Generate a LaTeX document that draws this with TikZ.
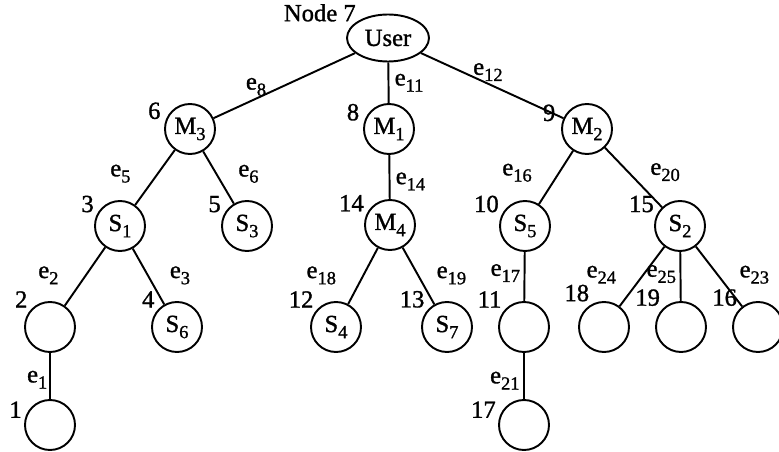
\documentclass[tikz,border=0pt]{standalone}
\usepackage{fontspec}
\setmainfont{Liberation Serif}[FakeBold=1.2]
\usetikzlibrary{shapes.geometric}
\def\sub#1{\raisebox{-0.55ex}{\fontsize{10.5}{10.5}\selectfont #1}}

\begin{document}
\begin{tikzpicture}[
		font=\fontsize{14}{16}\selectfont,
		line width=1.1pt,
		vertex/.style={draw, circle, minimum size=1cm, inner sep=0pt},
		num/.style={inner sep=1pt, label distance=0pt},
		elab/.style={inner sep=1pt}
	]
				\useasboundingbox (0,0) rectangle (15.58,-9.04);
				
				\node[draw, ellipse, minimum width=1.64cm, minimum height=0.94cm, inner sep=0pt,
					label={[num, label distance=-2pt]155:Node 7}] (user) at (7.76,-0.76) {User};
				
				\node[vertex, label={[num, label distance=1pt]165:6}] (m3) at (3.80,-2.58) {M\sub{3}};
				\node[vertex, label={[num, label distance=1pt]168:8}] (m1) at (7.78,-2.58) {M\sub{1}};
				\node[vertex, label={[num, label distance=2pt]170:9}] (m2) at (11.74,-2.58) {M\sub{2}};
				
				\node[vertex, label={[num]155:3}] (s1) at (2.40,-4.52) {S\sub{1}};
				\node[vertex, label={[num]155:5}] (s3) at (4.94,-4.52) {S\sub{3}};
				\node[vertex, label={[num]155:14}] (m4) at (7.80,-4.50) {M\sub{4}};
				\node[vertex, label={[num]155:10}] (s5) at (10.50,-4.52) {S\sub{5}};
				\node[vertex, label={[num]155:15}] (s2) at (13.60,-4.52) {S\sub{2}};
				
				\node[vertex, label={[num]140:2}] (n2) at (1.00,-6.54) {};
				\node[vertex, label={[num]140:4}] (s6) at (3.54,-6.54) {S\sub{6}};
				\node[vertex, label={[num]140:12}] (s4) at (6.72,-6.54) {S\sub{4}};
				\node[vertex, label={[num]140:13}] (s7) at (8.94,-6.54) {S\sub{7}};
				\node[vertex, label={[num]140:11}] (n11) at (10.48,-6.54) {};
				\node[vertex, label={[num]118:18}] (n18) at (12.08,-6.54) {};
				\node[vertex, label={[num]135:19}] (n19) at (13.62,-6.54) {};
				\node[vertex, label={[num]135:16}] (n16) at (15.16,-6.54) {};
				
				\node[vertex, label={[num]170:1}] (n1) at (1.00,-8.50) {};
				\node[vertex, label={[num]170:17}] (n17) at (10.48,-8.50) {};
				
				\draw (user) -- node[elab, above, pos=0.7] {e\sub{8}} (m3);
				\draw (user) -- node[elab, right=2pt] {e\sub{11}} (m1);
				\draw (user) -- node[elab, above, pos=0.47] {e\sub{12}} (m2);
				
				\draw (m3) -- node[elab, left=14pt, pos=0.43] {e\sub{5}} (s1);
				\draw (m3) -- node[elab, right=11pt, pos=0.43] {e\sub{6}} (s3);
				\draw (m1) -- node[elab, right=2pt, pos=0.6] {e\sub{14}} (m4);
				\draw (m2) -- node[elab, left=14pt, pos=0.41] {e\sub{16}} (s5);
				\draw (m2) -- node[elab, right=11pt, pos=0.41] {e\sub{20}} (s2);
				
				\draw (s1) -- node[elab, left=14pt, pos=0.48] {e\sub{2}} (n2);
				\draw (s1) -- node[elab, right=11pt, pos=0.48] {e\sub{3}} (s6);
				\draw (m4) -- node[elab, left=14pt, pos=0.49] {e\sub{18}} (s4);
				\draw (m4) -- node[elab, right=9pt, pos=0.49] {e\sub{19}} (s7);
				\draw (s5) -- node[elab, left=1pt, pos=0.43] {e\sub{17}} (n11);
				\draw (s2) -- node[elab, left=14pt, pos=0.47] {e\sub{24}} (n18);
				\draw (s2) -- node[elab, left=1pt, pos=0.45] {e\sub{25}} (n19);
				\draw (s2) -- node[elab, right=11pt, pos=0.47] {e\sub{23}} (n16);
				
				\draw (n2) -- node[elab, left=0pt, pos=0.58] {e\sub{1}} (n1);
				\draw (n11) -- node[elab, left=1pt, pos=0.6] {e\sub{21}} (n17);
\end{tikzpicture}
\end{document}
